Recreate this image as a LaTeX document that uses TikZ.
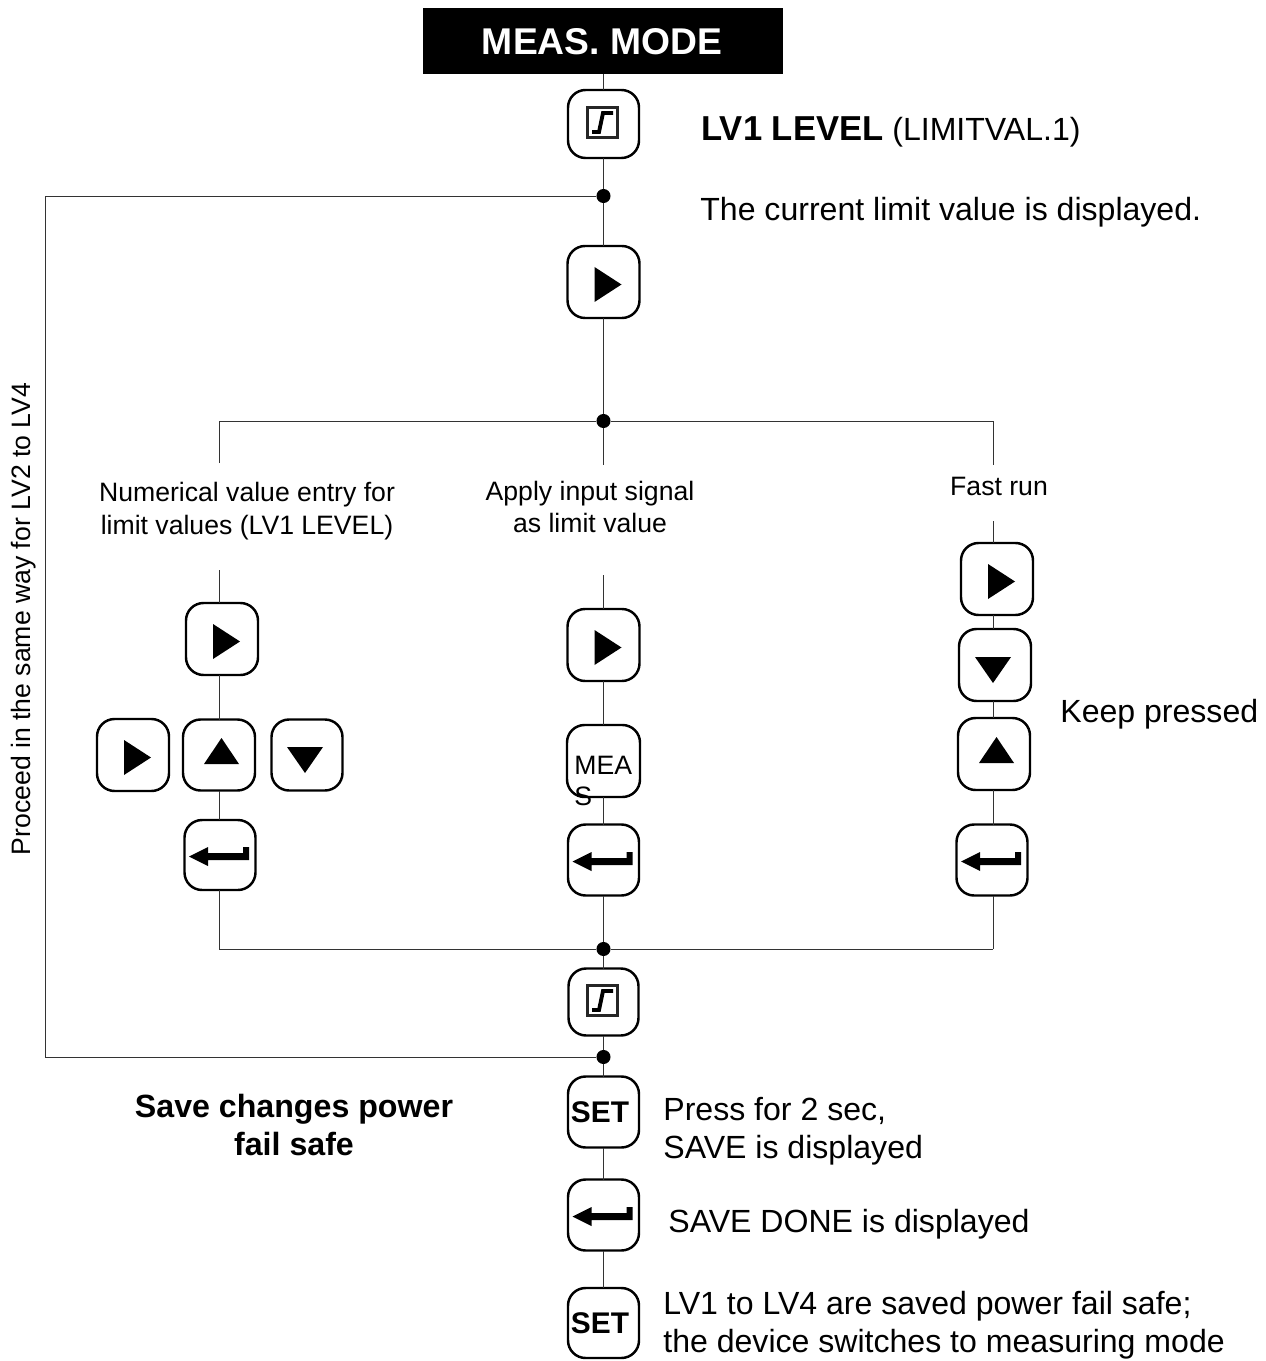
\documentclass[tikz,border=0pt]{standalone}
\usepackage{fontspec}
\setmainfont{Liberation Sans}
\usetikzlibrary{calc}
\tikzset{
	conn/.style={draw=black!80, line width=0.55pt},
	key/.style={draw, fill=white, line width=1.4pt, rounded corners=10pt, inner sep=0pt, outer sep=0pt},
	rightglyph/.pic={\fill (-9,-15) -- (18,2.5) -- (-9,20) -- cycle;},
	upglyph/.pic={\fill (-15,9) -- (2.5,-17) -- (20,9) -- cycle;},
	downglyph/.pic={\fill (-20,-8) -- (16,-8) -- (-2,18) -- cycle;},
	enterglyph/.pic={\fill (-31,1.5) -- (-12,-8) -- (-12,-2) -- (23,-2) -- (23,-8) -- (29,-8) -- (29,5) -- (-12,5) -- (-12,11) -- cycle;},
	limitglyph/.pic={
		\draw[line width=1.7pt, draw=black!85] (-16,-16.5) rectangle (14,13.5);
		\draw[line width=2.2pt] (-11.5,8) -- (-4.5,8) -- (-0.5,-11) -- (9.5,-11);
	},
	noglyph/.pic={},
	junct/.style={circle, fill=black, inner sep=0pt, minimum size=8pt},
	lbl/.style={inner sep=0pt, align=left, font=\fontsize{18.25}{21.6}\selectfont},
	smalllbl/.style={inner sep=0pt, align=center, font=\fontsize{15.15}{18}\selectfont},
	boldlbl/.style={inner sep=0pt, align=center, font=\fontsize{18.3}{21.6}\selectfont\bfseries},
	setlbl/.style={inner sep=0pt, font=\fontsize{17}{20}\selectfont\bfseries}
}
\newcommand{\mkkey}[6]{\node[key, minimum width=#5*0.02cm, minimum height=#6*0.02cm] (#2) at (#3,#4) {}; \pic at (#2) {#1};}
\begin{document}
\begin{tikzpicture}[x=0.02cm, y=-0.02cm]
	\useasboundingbox (0,0) rectangle (1266,1361);
	% Heading
	\node[fill=black, text=white, minimum width=360*0.02cm, minimum height=66*0.02cm, inner sep=0pt, font=\fontsize{21.2}{26}\selectfont\bfseries] (head) at (603,41) {};
	\node[text=white, inner sep=0pt, font=\fontsize{21.2}{26}\selectfont\bfseries] (headtext) at (602,42) {MEAS. MODE};
	% Junctions
	\node[junct] (j1) at (603.5,196) {};
	\node[junct] (j2) at (603.5,421) {};
	\node[junct] (j3) at (603.5,949) {};
	\node[junct] (j4) at (603.5,1057) {};
	\coordinate (numtop) at (219,463);
	\coordinate (numbot) at (219,570);
	\coordinate (applytop) at (603.5,465);
	\coordinate (applybot) at (603.5,575);
	\coordinate (fasttop) at (993,465);
	\coordinate (fastbot) at (993,521);
	\coordinate (numend) at (219,949);
	\coordinate (fastend) at (993,949);
	\coordinate (looptop) at (45,196);
	\coordinate (loopbot) at (45,1057);
	% Keys, left column
	\mkkey{rightglyph}{numright}{222}{639}{72}{72}
	\mkkey{rightglyph}{numleft}{133}{755}{72}{72}
	\mkkey{upglyph}{numup}{219}{755}{72}{71}
	\mkkey{downglyph}{numdown}{307}{755}{71}{71}
	\mkkey{enterglyph}{numenter}{220}{855}{71}{70}
	% Keys, middle column
	\mkkey{limitglyph}{limkey}{603.5}{124}{71}{68}
	\mkkey{rightglyph}{nextkey}{603.5}{282}{72}{72}
	\mkkey{rightglyph}{applyright}{603.5}{645}{72}{72}
	\mkkey{noglyph}{measkey}{603.5}{761}{73}{72}
	\mkkey{enterglyph}{applyenter}{603.5}{860}{71}{71}
	\mkkey{limitglyph}{limback}{603.5}{1002}{70}{67}
	\mkkey{noglyph}{setone}{603.5}{1112}{71}{71}
	\mkkey{enterglyph}{saveenter}{603.5}{1215}{71}{71}
	\mkkey{noglyph}{settwo}{603.5}{1323}{71}{70}
	% Keys, right column
	\mkkey{rightglyph}{fastright}{997}{579}{72}{72}
	\mkkey{downglyph}{fastdown}{995}{665}{72}{72}
	\mkkey{upglyph}{fastup}{994}{754}{72}{72}
	\mkkey{enterglyph}{fastenter}{992}{860}{71}{71}
	% Connectors
	\draw[conn] (head.south -| limkey) -- (limkey.north);
	\foreach \a/\b in {limkey/j1, j1/nextkey, nextkey/j2, j2/applytop, applybot/applyright, applyright/measkey, measkey/applyenter, applyenter/j3, j3/limback, limback/j4, j4/setone, setone/saveenter, saveenter/settwo}{
		\draw[conn] (\a) -- (\b);
	}
	\draw[conn] (numtop) |- (j2) -| (fasttop);
	\draw[conn] (j1) -- (looptop) -- (loopbot) -- (j4);
	\draw[conn] (numend) -- (j3) -- (fastend);
	\draw[conn] (numbot) -- (numbot |- numright.north);
	\draw[conn] (numright.south -| numend) -- (numup.north -| numend);
	\draw[conn] (numup.south -| numend) -- (numenter.north -| numend);
	\draw[conn] (numenter.south -| numend) -- (numend);
	\draw[conn] (fastbot) -- (fastbot |- fastright.north);
	\foreach \a/\b in {fastright/fastdown, fastdown/fastup, fastup/fastenter}{
		\draw[conn] (\a.south -| fastend) -- (\b.north -| fastend);
	}
	\draw[conn] (fastenter.south -| fastend) -- (fastend);
	% Texts
	\node[setlbl] (settextone) at (600,1112) {SET};
	\node[setlbl] (settexttwo) at (600,1323) {SET};
	\node[smalllbl, anchor=west, align=left] (meastext) at (574,781) {MEA\\S};
	\node[lbl, anchor=west] (lvtitle) at (701,132) {{\fontsize{19.7}{21}\selectfont\bfseries LV1 LEVEL} (LIMITVAL.1)};
	\node[lbl, anchor=west] (curtext) at (700,212) {The current limit value is displayed.};
	\node[smalllbl] (numtext) at (247,511) {Numerical value entry for\\[0.6pt]limit values (LV1 LEVEL)};
	\node[smalllbl] (applytext) at (590,507) {Apply input signal\\as limit value};
	\node[smalllbl] (fasttext) at (999,486) {Fast run};
	\node[lbl, anchor=west] (keeptext) at (1060,714) {Keep pressed};
	\node[boldlbl] (savetext) at (294,1125) {Save changes power\\fail safe};
	\node[lbl, anchor=west] (presstext) at (663,1131) {Press for 2 sec,\\SAVE is displayed};
	\node[lbl, anchor=west] (donetext) at (668,1224) {SAVE DONE is displayed};
	\node[lbl, anchor=west] (lvtext) at (663,1325) {LV1 to LV4 are saved power fail safe;\\the device switches to measuring mode};
	\node[smalllbl, rotate=90] (looptext) at (24,619) {Proceed in the same way for LV2 to LV4};
\end{tikzpicture}
\end{document}
